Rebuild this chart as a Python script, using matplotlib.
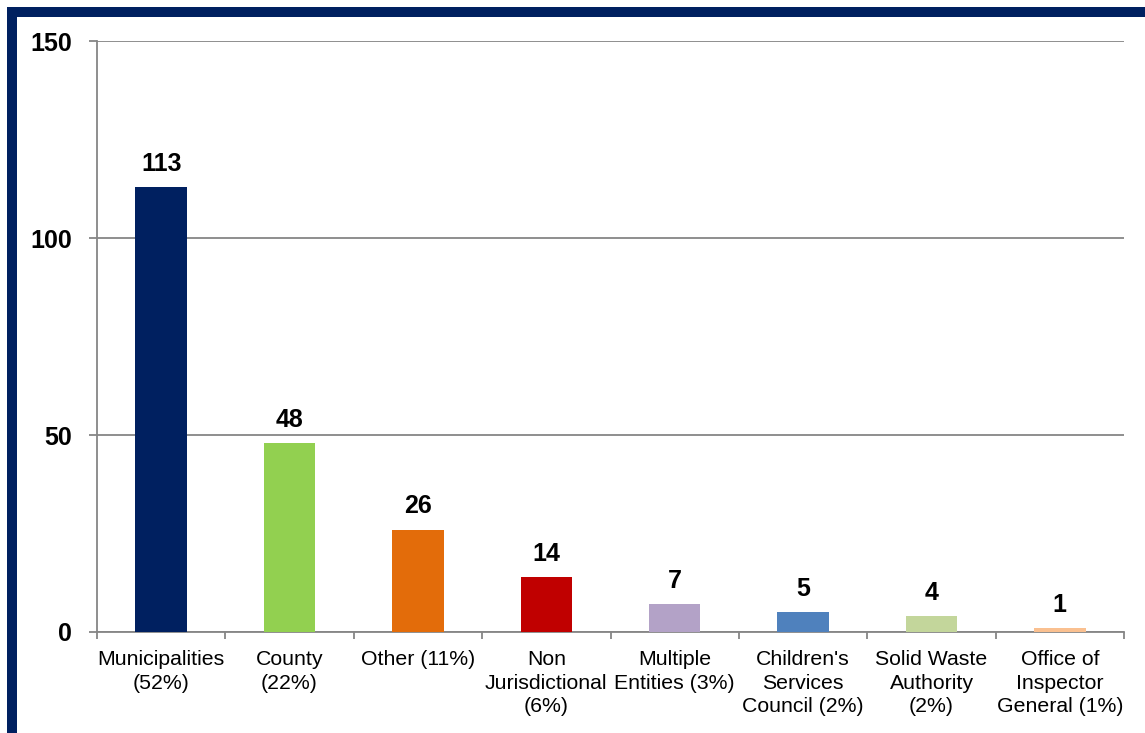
import matplotlib
matplotlib.use("Agg")
import matplotlib.pyplot as plt
import numpy as np
from matplotlib.patches import Rectangle

categories = ["Municipalities\n(52%)", "County\n(22%)", "Other (11%)",
              "Non\nJurisdictional\n(6%)", "Multiple\nEntities (3%)",
              "Children's\nServices\nCouncil (2%)", "Solid Waste\nAuthority\n(2%)",
              "Office of\nInspector\nGeneral (1%)"]
counts = [113, 48, 26, 14, 7, 5, 4, 1]
bar_colors = ["#002060", "#92D050", "#E36C0A", "#C00000",
              "#B3A2C7", "#4F81BD", "#C3D69B", "#FAC090"]
yticks = [0, 50, 100, 150]

plt.rcParams['font.family'] = ['Liberation Sans', 'DejaVu Sans']

fig = plt.figure(figsize=(11.45, 7.33), dpi=100)
ax = fig.add_axes([0.0847, 0.1378, 0.8970, 0.8062])

x = np.arange(len(counts))
ax.bar(x, counts, width=0.4, color=bar_colors, zorder=3)
for xi, v in zip(x, counts):
    ax.annotate(str(v), (xi, v), xytext=(0, 8), textcoords='offset points',
                ha='center', va='bottom', fontsize=18, fontweight='bold')

ax.set_xlim(-0.5, len(counts) - 0.5)
ax.set_ylim(0, 150)
ax.set_yticks(yticks)
ax.set_yticklabels([str(t) for t in yticks], fontsize=18, fontweight='bold')
ax.yaxis.grid(True, color='#868686', linewidth=1.3, zorder=0)
ax.tick_params(axis='y', length=6, width=1.3, color='#868686', pad=12)

ax.set_xticks(x)
ax.set_xticklabels(categories, fontsize=15.3, linespacing=1.3, va='top')
ax.set_xticks(np.arange(len(counts) + 1) - 0.5, minor=True)
ax.tick_params(axis='x', which='major', length=0, pad=13)
ax.tick_params(axis='x', which='minor', length=5, width=1.3, color='#868686')

for s in ['top', 'right']:
    ax.spines[s].set_visible(False)
for s in ['left', 'bottom']:
    ax.spines[s].set_color('#868686')
    ax.spines[s].set_linewidth(1.3)

# dark frame around the chart
W, H = 1145, 733
fig.patches.append(Rectangle((12 / W, -4 / H), 1150 / W, (H - 11.5 + 4) / H,
                             transform=fig.transFigure, fill=False,
                             edgecolor='#002060', linewidth=7.2))

fig.savefig("out.png", dpi=100)
